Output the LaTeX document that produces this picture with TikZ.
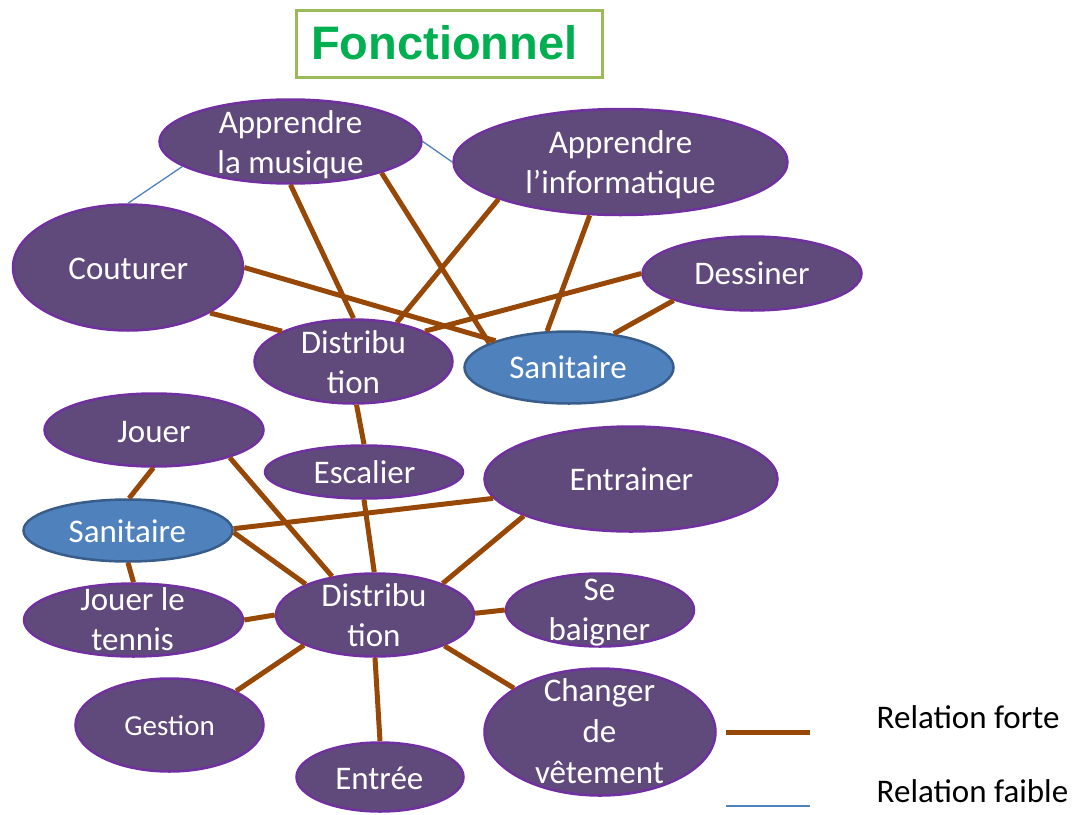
\documentclass[tikz,border=0pt]{standalone}
\usepackage{fontspec}
\setmainfont{Carlito}
\newfontfamily\titlefont{Liberation Sans}
\usetikzlibrary{shapes.geometric}
\definecolor{bubblefill}{RGB}{96,74,123}
\definecolor{bubbleedge}{RGB}{112,48,160}
\definecolor{sanfill}{RGB}{79,129,189}
\definecolor{sanedge}{RGB}{56,93,138}
\definecolor{strongbrown}{RGB}{152,72,6}
\definecolor{weakblue}{RGB}{79,129,189}
\definecolor{titlegreen}{RGB}{0,176,80}
\definecolor{titleframe}{RGB}{155,187,89}
\begin{document}
\begin{tikzpicture}[x=1pt,y=-1pt,
  bubble/.style={ellipse, draw=bubbleedge, fill=bubblefill, line width=2.5pt, inner sep=0pt},
  sanit/.style={ellipse, draw=sanedge, fill=sanfill, line width=2.5pt, inner sep=0pt},
  lbl/.style={text=white, font=\fontsize{33}{40}\selectfont, align=center, inner sep=0pt, anchor=base},
  legendtext/.style={text=black, font=\fontsize{33}{40}\selectfont, inner sep=0pt, anchor=base west},
  strong/.style={draw=strongbrown, line width=5pt},
  weak/.style={draw=weakblue, line width=1.3pt},
]
\useasboundingbox (0,0) rectangle (1081,814);

% title
\node[draw=titleframe, line width=3pt, minimum width=306pt, minimum height=67pt, inner sep=0pt] (titlebox) at (449.5,44) {};
\node[text=titlegreen, font=\titlefont\bfseries\fontsize{47}{52}\selectfont, inner sep=0pt, anchor=base west] (title) at (311,59) {Fonctionnel};

% upper group
\node[bubble, minimum width=262pt, minimum height=84pt] (mus) at (290.5,141.5) {};
\node[bubble, minimum width=334pt, minimum height=106pt] (info) at (620.5,162) {};
\node[bubble, minimum width=230pt, minimum height=126pt] (cout) at (128,267.5) {};
\node[bubble, minimum width=219pt, minimum height=74pt] (dess) at (752,273.5) {};
\node[bubble, minimum width=198pt, minimum height=84pt] (dist1) at (353.5,361.5) {};
\node[sanit, minimum width=209pt, minimum height=72pt] (san1) at (569,367.5) {};

% lower group
\node[bubble, minimum width=219pt, minimum height=73pt] (jouer) at (154,430) {};
\node[bubble, minimum width=198pt, minimum height=53pt] (esc) at (364,472) {};
\node[bubble, minimum width=293pt, minimum height=105pt] (entr) at (631,479) {};
\node[sanit, minimum width=209pt, minimum height=62pt] (san2) at (128,530.5) {};
\node[bubble, minimum width=219pt, minimum height=73pt] (tennis) at (133.5,620) {};
\node[bubble, minimum width=198pt, minimum height=83pt] (dist2) at (375,615) {};
\node[bubble, minimum width=188pt, minimum height=73pt] (bain) at (600,610) {};
\node[bubble, minimum width=188pt, minimum height=93pt] (gest) at (169.5,725) {};
\node[bubble, minimum width=167pt, minimum height=69pt] (entree) at (380,777) {};
\node[bubble, minimum width=231pt, minimum height=127pt] (chg) at (600,732) {};

% labels (base anchor sits on the last line)
\node[lbl] (musT) at (290.5,173) {Apprendre\\la musique};
\node[lbl] (infoT) at (620.5,193) {Apprendre\\l’informatique};
\node[lbl] (coutT) at (128.3,279) {Couturer};
\node[lbl] (dessT) at (752,284) {Dessiner};
\node[lbl] (dist1T) at (353.5,393) {Distribu\\tion};
\node[lbl] (san1T) at (568,378) {Sanitaire};
\node[lbl] (jouerT) at (154,442) {Jouer};
\node[lbl] (escT) at (364.5,483) {Escalier};
\node[lbl] (entrT) at (631.4,490) {Entrainer};
\node[lbl] (san2T) at (127.4,542) {Sanitaire};
\node[lbl] (tennisT) at (132.6,650) {Jouer le\\tennis};
\node[lbl] (dist2T) at (374,646) {Distribu\\tion};
\node[lbl] (bainT) at (599.4,640) {Se\\baigner};
\node[lbl, font=\fontsize{29}{34}\selectfont] (gestT) at (169.6,735) {Gestion};
\node[lbl] (entreeT) at (379.3,789) {Entrée};
\node[lbl, font=\fontsize{33}{41}\selectfont] (chgT) at (599.4,783) {Changer\\de\\vêtement};

% strong relations, upper group
\draw[strong] (mus.south) -- (dist1.north);
\draw[strong] (mus.-19) -- (san1.163);
\draw[strong] (cout.east) -- (san1.160);
\draw[strong] (cout.-29) -- (dist1.157);
\draw[strong] (info.197) -- (dist1.42);
\draw[strong] (info.240) -- (san1.121);
\draw[strong] (dess.west) -- (dist1.23);
\draw[strong] (dess.199) -- (san1.37);
\draw[strong] (dist1.-86) -- (esc.north);

% strong relations, lower group
\draw[strong] (jouer.-91) -- (san2.88);
\draw[strong] (san2.-90) -- (tennis.90);
\draw[strong] (jouer.-20) -- (dist2.138);
\draw[strong] (san2.-1) -- (dist2.156);
\draw[strong] (san2.1) -- (entr.188);
\draw[strong] (esc.south) -- (dist2.91);
\draw[strong] (entr.199) -- (dist2.25);
\draw[strong] (tennis.0) -- (dist2.180);
\draw[strong] (bain.180) -- (dist2.1);
\draw[strong] (gest.27) -- (dist2.203);
\draw[strong] (entree.north) -- (dist2.south);
\draw[strong] (chg.153) -- (dist2.-24);

% weak relations
\draw[weak] (cout.north) -- (mus.193);
\draw[weak] (mus.east) -- (info.west);

% legend
\coordinate (lf1) at (726,732);
\coordinate (lf2) at (810,732);
\coordinate (lw1) at (726,806);
\coordinate (lw2) at (810,806);
\draw[strong] (lf1) -- (lf2);
\draw[weak] (lw1) -- (lw2);
\node[legendtext] (forteT) at (876.5,728) {Relation forte};
\node[legendtext] (faibleT) at (876.5,802) {Relation faible};
\end{tikzpicture}
\end{document}
